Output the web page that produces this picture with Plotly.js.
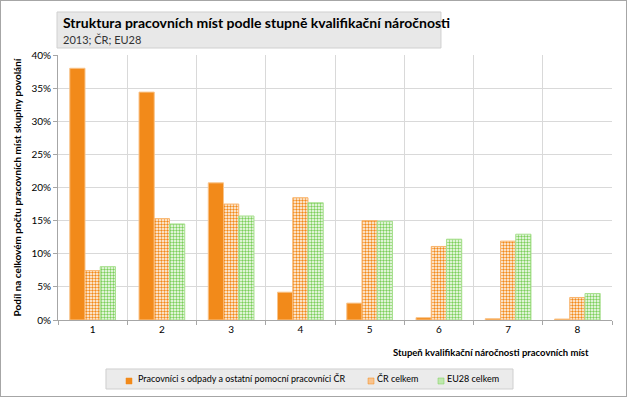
<!DOCTYPE html>
<html><head><meta charset="utf-8">
<script src="https://cdn.plot.ly/plotly-3.0.1.min.js"></script>
<style>
html,body{margin:0;padding:0;background:#fff;}
#wrap{width:627px;height:397px;box-sizing:border-box;border:1px solid #a6a6a6;overflow:hidden;}
#chart{width:625px;height:395px;}
</style></head>
<body><div id="wrap"><div id="chart"></div></div>
<script>
const categories = ['1','2','3','4','5','6','7','8'];
const seriesNames = ['Pracovníci s odpady a ostatní pomocní pracovníci ČR','ČR celkem','EU28 celkem'];
const workersCR = [38.0, 34.4, 20.7, 4.2, 2.55, 0.35, 0.2, 0.15];
const totalCR   = [7.45, 15.3, 17.5, 18.45, 15.0, 11.1, 11.9, 3.4];
const totalEU   = [8.05, 14.5, 15.7, 17.7, 14.9, 12.2, 12.95, 4.0];
const yTicks = [0,5,10,15,20,25,30,35,40];

const FONT = 'Lato, "Open Sans", sans-serif';
const orange = '#f28a1a';
const green = '#7ccf5a';

const traces = [
  {type:'bar', name:seriesNames[0], x:categories, y:workersCR,
   marker:{color:orange, line:{color:'#f9c48a', width:1}}},
  {type:'bar', name:seriesNames[1], x:categories, y:totalCR,
   marker:{color:'#ffffff', line:{color:'#f9b36a', width:1},
     pattern:{shape:'.', fgcolor:orange, bgcolor:'#ffffff', size:3, solidity:0.5, fillmode:'replace'}}},
  {type:'bar', name:seriesNames[2], x:categories, y:totalEU,
   marker:{color:'#ffffff', line:{color:'#a8e08f', width:1},
     pattern:{shape:'.', fgcolor:green, bgcolor:'#ffffff', size:3, solidity:0.5, fillmode:'replace'}}}
];

// custom legend (box, icons, labels) in paper coordinates
const legendIcons = [
  {x0:0.1227, x1:0.1336, fill:orange, line:orange},
  {x0:0.5596, x1:0.5704, fill:'#f9c38d', line:orange},
  {x0:0.6859, x1:0.6968, fill:'#bfe8ad', line:green}
];
const legendTextX = [0.1408, 0.5722, 0.6986];

const shapes = [
  {type:'rect', xref:'paper', yref:'paper', x0:-0.0018, x1:0.6913, y0:1.0264, y1:1.1623,
   fillcolor:'#e8e8e8', line:{color:'#d0d0d0', width:1}, layer:'below'},
  {type:'rect', xref:'paper', yref:'paper', x0:0.0866, x1:0.8213, y0:-0.2604, y1:-0.1849,
   fillcolor:'#ebebeb', line:{color:'#cfcfcf', width:1}, layer:'below'}
];
legendIcons.forEach(ic => shapes.push({type:'rect', xref:'paper', yref:'paper',
  x0:ic.x0, x1:ic.x1, y0:-0.2415, y1:-0.2189, fillcolor:ic.fill, line:{color:ic.line, width:0.5}}));

const annotations = [
  {xref:'paper', yref:'paper', x:0.0054, y:1.1226, xanchor:'left', yanchor:'middle', showarrow:false,
   text:'<b>Struktura pracovních míst podle stupně kvalifikační náročnosti</b>', font:{family:FONT, size:14, color:'#000'}},
  {xref:'paper', yref:'paper', x:0.0054, y:1.0585, xanchor:'left', yanchor:'middle', showarrow:false,
   text:'2013; ČR; EU28', font:{family:FONT, size:11, color:'#333'}},
  {xref:'paper', yref:'paper', x:0.9621, y:-0.1208, xanchor:'right', yanchor:'middle', showarrow:false,
   text:'<b>Stupeň kvalifikační náročnosti pracovních míst</b>', font:{family:FONT, size:9.5, color:'#000'}}
];
seriesNames.forEach((n,i) => annotations.push({xref:'paper', yref:'paper', x:legendTextX[i], y:-0.2226,
  xanchor:'left', yanchor:'middle', showarrow:false, text:n, font:{family:FONT, size:9, color:'#000'}}));

const layout = {
  width:625, height:395,
  margin:{l:57, r:14, t:54, b:76},
  paper_bgcolor:'#fff', plot_bgcolor:'#fff',
  font:{family:FONT, size:10, color:'#000'},
  barmode:'group', bargap:0.34, bargroupgap:0,
  showlegend:false,
  xaxis:{type:'category', tickson:'boundaries', showgrid:true, gridcolor:'#d9d9d9', gridwidth:1,
    ticks:'outside', ticklen:4, tickcolor:'#a6a6a6', showline:true, linecolor:'#a6a6a6',
    tickfont:{family:FONT, size:10}},
  yaxis:{range:[0,40], tickvals:yTicks, ticktext:yTicks.map(v=>v+'%'),
    showgrid:true, gridcolor:'#d9d9d9', gridwidth:1, zeroline:false,
    ticks:'outside', ticklen:4, tickcolor:'#a6a6a6', showline:true, linecolor:'#a6a6a6',
    tickfont:{family:FONT, size:10},
    title:{text:'<b>Podíl na celkovém počtu pracovních míst skupiny povolání</b>', font:{family:FONT, size:10}, standoff:7}},
  shapes:shapes,
  annotations:annotations
};

Plotly.newPlot('chart', traces, layout, {displayModeBar:false, staticPlot:true});
</script></body></html>
